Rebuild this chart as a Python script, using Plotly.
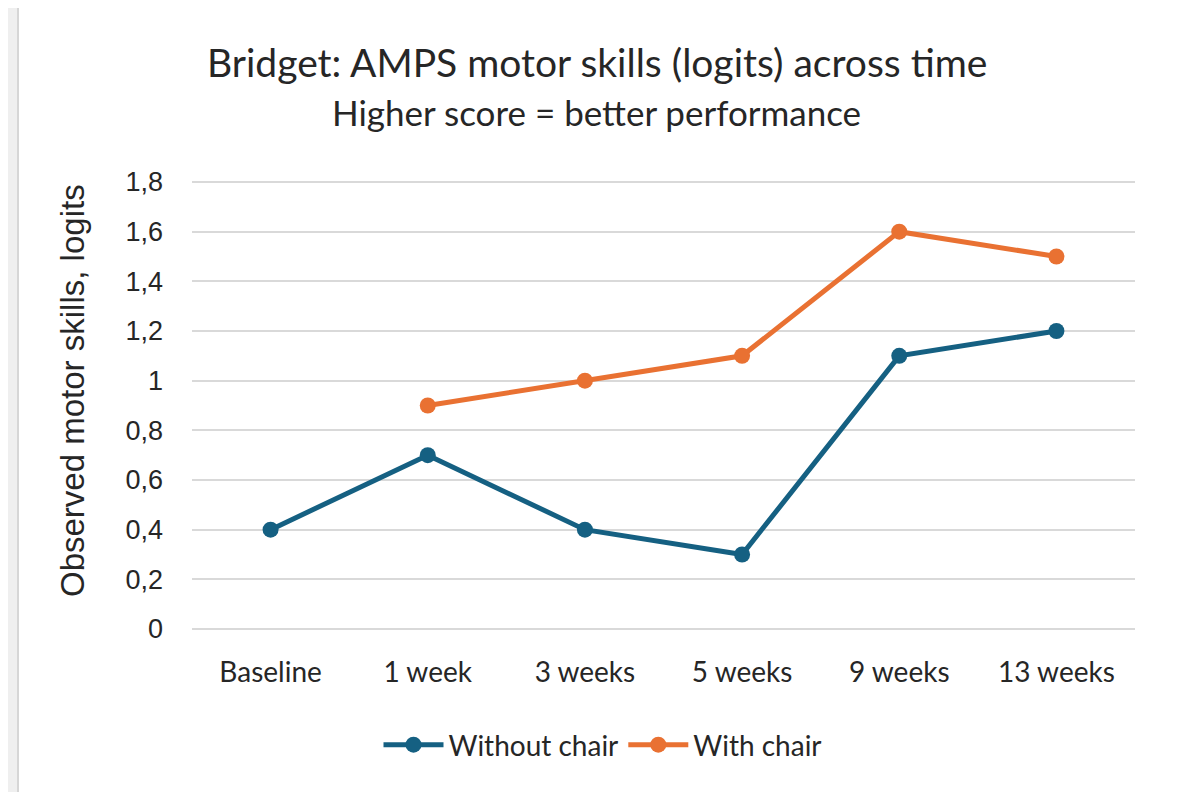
import plotly.graph_objects as go

categories = ["Baseline", "1 week", "3 weeks", "5 weeks", "9 weeks", "13 weeks"]
without_chair = [0.4, 0.7, 0.4, 0.3, 1.1, 1.2]
with_chair = [None, 0.9, 1.0, 1.1, 1.6, 1.5]
y_ticks = [0, 0.2, 0.4, 0.6, 0.8, 1.0, 1.2, 1.4, 1.6, 1.8]
y_tick_labels = ["0", "0,2", "0,4", "0,6", "0,8", "1", "1,2", "1,4", "1,6", "1,8"]

FONT = "Lato, 'Open Sans', sans-serif"
AFONT = "'Liberation Sans', Arial, sans-serif"
BLUE = "#156082"
ORANGE = "#E97132"
TXT = "#262626"

# page-pixel geometry (the html body adds an 8px offset)
OFF = 8
L, R, T, B = 192, 1135, 180, 631
W, H = R - L, B - T


def px(x):
    return (x - L) / W


def py(y):
    return (B - y) / H


fig = go.Figure()
fig.add_trace(go.Scatter(x=categories, y=without_chair, name="Without chair",
                         mode="lines+markers", line=dict(color=BLUE, width=5),
                         marker=dict(size=16, color=BLUE)))
fig.add_trace(go.Scatter(x=categories, y=with_chair, name="With chair",
                         mode="lines+markers", line=dict(color=ORANGE, width=5),
                         marker=dict(size=16, color=ORANGE)))

fig.update_layout(
    width=1184, height=792,
    margin=dict(l=L - OFF, r=1184 + OFF - R, t=T - OFF, b=792 + OFF - B),
    paper_bgcolor="#efefef",
    plot_bgcolor="white",
    font=dict(family=FONT, size=26, color=TXT),
    showlegend=True,
    legend=dict(orientation="h", x=px(603), xanchor="center", y=py(745), yanchor="middle",
                font=dict(size=28, color=TXT), itemwidth=60, bgcolor="rgba(0,0,0,0)",
                tracegroupgap=0),
    shapes=[dict(type="rect", xref="paper", yref="paper",
                 x0=px(18), x1=px(1177), y0=py(900), y1=py(5),
                 fillcolor="white", line=dict(color="#d6d6d6", width=2), layer="below")],
    annotations=[
        dict(text="Bridget: AMPS motor skills (logits) across time", xref="paper", yref="paper",
             x=px(597), y=py(62), xanchor="center", yanchor="middle",
             showarrow=False, font=dict(size=39, color=TXT, family=FONT)),
        dict(text="Higher score = better performance", xref="paper", yref="paper",
             x=px(596), y=py(112), xanchor="center", yanchor="middle",
             showarrow=False, font=dict(size=35, color=TXT, family=FONT)),
        dict(text="Observed motor skills, logits", xref="paper", yref="paper",
             x=px(72), y=py(391), xanchor="center", yanchor="middle",
             textangle=-90, showarrow=False, font=dict(size=33, color=TXT, family=AFONT)),
    ],
)
fig.update_xaxes(type="category", range=[-0.5, 5.5], showgrid=False, showline=False,
                 zeroline=False, ticks="", ticklabelstandoff=22,
                 tickfont=dict(size=28, color=TXT, family=FONT))
fig.update_yaxes(range=[-0.008, 1.808], tickvals=y_ticks, ticktext=y_tick_labels,
                 showgrid=True, gridcolor="#d9d9d9", gridwidth=2, zeroline=False,
                 showline=False, ticks="", ticklabelstandoff=28,
                 tickfont=dict(size=27, color=TXT, family=AFONT))

fig.write_html("out.html")
